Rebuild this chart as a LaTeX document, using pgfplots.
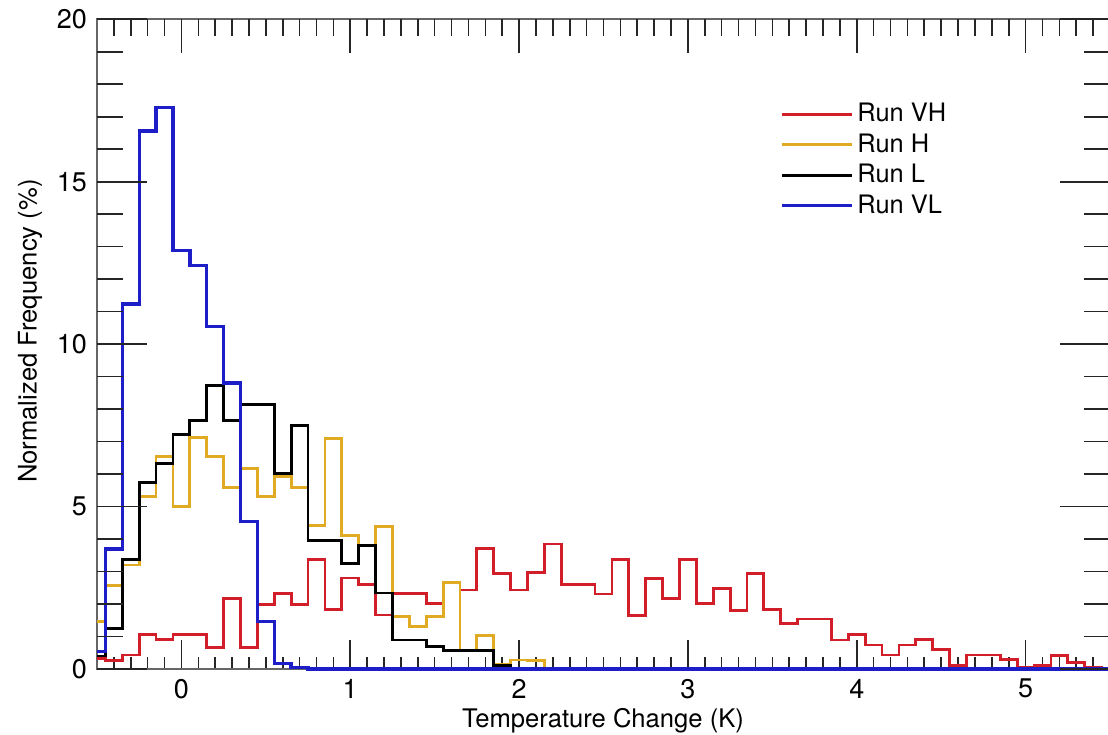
\documentclass[border=0pt]{standalone}
\usepackage{fontspec}
\setmainfont{TeX Gyre Heros}
\usepackage{pgfplots}
\pgfplotsset{compat=1.18}
\definecolor{cVH}{RGB}{210,30,40}
\definecolor{cH}{RGB}{225,170,35}
\definecolor{cVL}{RGB}{30,30,200}
\pgfplotsset{common/.style={width=506.5pt, height=324.85pt, scale only axis,
  xmin=-0.5, xmax=5.5, ymin=0, ymax=20, at={(0pt,0pt)}, anchor=south west,
  tick align=inside, tick style={black!85, line width=0.8pt},
  /pgf/number format/assume math mode=true,
  ticklabel style={font=\fontsize{13.5}{16}\selectfont}}}
\begin{document}
\begin{tikzpicture}
\begin{axis}[common, clip=false,
  xtick={0,1,2,3,4,5}, minor xtick={-0.4,-0.3,...,5.45},
  xtick pos=bottom, ytick=\empty,
  major tick length=14.5pt, minor tick length=6pt,
  xticklabel style={yshift=-1.5pt},
  axis line style={black!60, line width=1pt},
  xlabel={Temperature Change (K)},
  xlabel style={at={(axis description cs:0.4995,-0.08)}, anchor=center, font=\fontsize{12.8}{15}\selectfont},
  legend style={at={(0.668,0.8835)}, anchor=north west, draw=none, fill=none,
    font=\fontsize{12.7}{15}\selectfont, row sep=0.5pt},
  legend cell align=left,
  legend image code/.code={\draw[#1] (0pt,0pt) -- (35pt,0pt);},
  every axis plot/.append style={const plot mark left, line width=1.4pt, mark=none}]
\addplot[cVH] coordinates {(-0.5,0.33) (-0.45,0.26) (-0.35,0.43) (-0.25,1.06) (-0.15,0.91) (-0.05,1.05) (0.05,1.05) (0.15,0.65) (0.25,2.18) (0.35,0.67) (0.45,1.99) (0.55,2.33) (0.65,1.99) (0.75,3.36) (0.85,1.84) (0.95,2.80) (1.05,2.60) (1.15,1.66) (1.25,2.33) (1.35,2.33) (1.45,2.02) (1.55,2.66) (1.65,2.43) (1.75,3.70) (1.85,2.95) (1.95,2.43) (2.05,2.97) (2.15,3.85) (2.25,2.61) (2.35,2.61) (2.45,2.31) (2.55,3.36) (2.65,1.64) (2.75,2.79) (2.85,2.16) (2.95,3.36) (3.05,2.02) (3.15,2.47) (3.25,1.80) (3.35,2.95) (3.45,1.83) (3.55,1.40) (3.65,1.54) (3.75,1.54) (3.85,0.89) (3.95,1.05) (4.05,0.74) (4.15,0.43) (4.25,0.74) (4.35,0.91) (4.45,0.61) (4.55,0.12) (4.65,0.43) (4.75,0.43) (4.85,0.30) (4.95,0.05) (5.05,0.12) (5.15,0.41) (5.25,0.19) (5.35,0.05) (5.45,0) (5.5,0)};
\addlegendentry{Run VH}
\addplot[cH] coordinates {(-0.5,1.46) (-0.45,2.56) (-0.35,3.2) (-0.25,5.31) (-0.15,6.54) (-0.05,5.0) (0.05,7.13) (0.15,6.54) (0.25,5.59) (0.35,6.18) (0.45,5.31) (0.55,5.93) (0.65,5.59) (0.75,4.42) (0.85,7.09) (0.95,4.12) (1.05,3.79) (1.15,4.39) (1.25,1.61) (1.35,1.30) (1.45,1.61) (1.55,2.66) (1.65,0.58) (1.75,1.02) (1.85,0.15) (1.95,0.28) (2.05,0.25) (2.15,0.03) (2.25,0) (5.5,0)};
\addlegendentry{Run H}
\addplot[black] coordinates {(-0.5,0.4) (-0.45,1.25) (-0.35,3.38) (-0.25,5.74) (-0.15,6.33) (-0.05,7.21) (0.05,7.64) (0.15,8.72) (0.25,7.64) (0.35,8.14) (0.45,8.14) (0.55,6.03) (0.65,7.49) (0.75,3.96) (0.85,3.96) (0.95,3.26) (1.05,3.80) (1.15,2.34) (1.25,0.89) (1.35,0.89) (1.45,0.69) (1.55,0.58) (1.65,0.58) (1.75,0.58) (1.85,0.12) (1.95,0.02) (2.05,0) (5.5,0)};
\addlegendentry{Run L}
\addplot[cVL, line width=1.7pt] coordinates {(-0.5,0.53) (-0.45,3.69) (-0.35,11.24) (-0.25,16.56) (-0.15,17.28) (-0.05,12.88) (0.05,12.42) (0.15,10.55) (0.25,8.8) (0.35,4.54) (0.45,1.46) (0.55,0.17) (0.65,0.05) (0.75,0) (5.5,0)};
\addlegendentry{Run VL}
\end{axis}
\begin{axis}[common,
  xtick={0,1,2,3,4,5}, minor xtick={-0.4,-0.3,...,5.45},
  xtick pos=top, xticklabels={}, ytick=\empty,
  major tick length=17pt, minor tick length=8.5pt,
  axis line style={draw=none}]
\end{axis}
\begin{axis}[common,
  xtick=\empty, ytick={0,5,10,15,20}, minor ytick={0,1,...,20},
  major tick length=25pt, minor tick length=12.8pt,
  yticklabel style={xshift=-1.5pt},
  axis line style={draw=none},
  ylabel={Normalized Frequency (\%)},
  ylabel style={at={(axis description cs:-0.0661,0.52)}, anchor=center, font=\fontsize{12.8}{15}\selectfont}]
\end{axis}
\pgfresetboundingbox
\useasboundingbox (-48.5pt,-32.5pt) rectangle (505.5pt,334.5pt);
\end{tikzpicture}
\end{document}
